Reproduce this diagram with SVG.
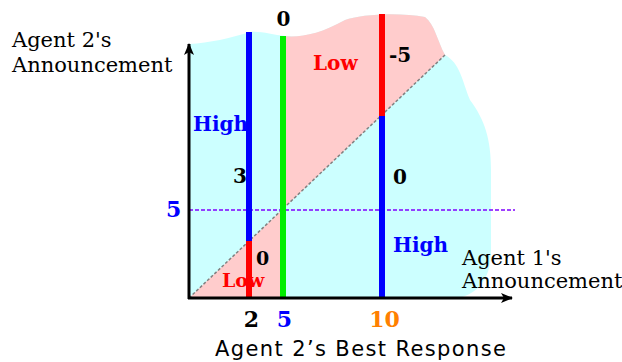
<svg xmlns="http://www.w3.org/2000/svg" width="622" height="362" viewBox="0 0 622 362">
<style>
.ser{font-family:"DejaVu Serif","Liberation Serif",serif;fill:#000}
.b{font-weight:bold}
.lab{font-size:20px}
.blue{fill:#0000ff}
.red{fill:#ff0000}
.org{fill:#ff8000}
.vl{stroke-width:6;fill:none}
</style>
<defs>
<marker id="ah" viewBox="0 0 12 10" refX="11" refY="5" markerWidth="12" markerHeight="10" markerUnits="userSpaceOnUse" orient="auto">
<path d="M0,0 L12,5 L0,10 L3,5 Z" fill="#000"/>
</marker>
</defs>
<g id="regions">
<path d="M189,298 L189,44 C210,43 230,38 250,32 C262,31 272,35 286,36 C300,38 320,34 345,20 C360,14 400,12 425,17 C435,25 437,40 445,55 C460,63 462,80 470,100 C485,120 491,140 491,170 L491,250 C491,280 478,292 460,298 Z" fill="#ccffff"/>
<path d="M283,209 L445,55 C437,40 435,25 425,17 C400,12 360,14 345,20 C320,34 300,38 283,36 Z" fill="#ffcccc"/>
<path d="M189,298 L283,209 L283,298 Z" fill="#ffcccc"/>
</g>
<g id="connectors">
<line x1="189" y1="298" x2="445" y2="55" stroke="#808080" stroke-width="1.5" stroke-dasharray="3,2"/>
<line x1="189" y1="210" x2="515" y2="210" stroke="#8000ff" stroke-width="1.5" stroke-dasharray="4,2"/>
<line x1="249" y1="32" x2="249" y2="241" stroke="#0000ff" class="vl"/>
<line x1="249" y1="241" x2="249" y2="298" stroke="#ff0000" class="vl"/>
<line x1="283" y1="36" x2="283" y2="298" stroke="#00ee00" class="vl"/>
<line x1="382" y1="14" x2="382" y2="116" stroke="#ff0000" class="vl"/>
<line x1="382" y1="116" x2="382" y2="298" stroke="#0000ff" class="vl"/>
<line x1="189" y1="299" x2="189" y2="44" stroke="#000" stroke-width="3" marker-end="url(#ah)"/>
<line x1="188" y1="298" x2="512" y2="298" stroke="#000" stroke-width="3" marker-end="url(#ah)"/>
</g>
<g id="axis-y-label">
<text class="ser" x="12" y="47" font-size="21">Agent 2's</text>
<text class="ser" x="12" y="72" font-size="21">Announcement</text>
</g>
<g id="axis-x-label">
<text class="ser" x="462" y="265" font-size="21">Agent 1's</text>
<text class="ser" x="462" y="288" font-size="21">Announcement</text>
</g>
<g id="labels">
<text class="ser b lab" x="283.5" y="26" text-anchor="middle">0</text>
<text class="ser b lab red" x="313" y="70">Low</text>
<text class="ser b lab" x="389" y="62">-5</text>
<text class="ser b lab blue" x="193" y="131">High</text>
<text class="ser b lab" x="233" y="183">3</text>
<text class="ser b lab" x="393" y="184">0</text>
<text class="ser b lab blue" x="393" y="252">High</text>
<text class="ser b" x="256" y="265" font-size="19">0</text>
<text class="ser b red" x="222" y="287" font-size="19">Low</text>
<text class="ser b blue" x="166" y="217" font-size="22">5</text>
<text class="ser b" x="251.5" y="327" font-size="22" text-anchor="middle">2</text>
<text class="ser b blue" x="284.5" y="327" font-size="22" text-anchor="middle">5</text>
<text class="ser b org" x="384.5" y="327" font-size="22" text-anchor="middle">10</text>
</g>
<g id="title">
<text x="215" y="356" font-family="'DejaVu Sans','Liberation Sans',sans-serif" font-size="21" textLength="291" lengthAdjust="spacing" fill="#000">Agent 2’s Best Response</text>
</g>
</svg>
